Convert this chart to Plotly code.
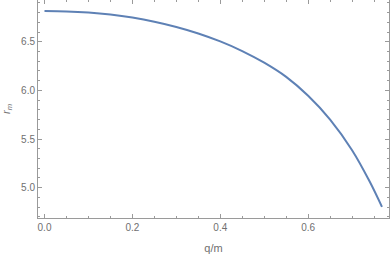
import plotly.graph_objects as go

q_over_m = [0.00, 0.05, 0.10, 0.15, 0.20, 0.25, 0.30, 0.35, 0.40, 0.45, 0.50,
            0.55, 0.60, 0.65, 0.70, 0.74, 0.768]
r_m = [6.817, 6.813, 6.801, 6.780, 6.749, 6.707, 6.653, 6.586, 6.504, 6.405,
       6.285, 6.139, 5.945, 5.700, 5.385, 5.063, 4.802]

x_ticks = [0.0, 0.2, 0.4, 0.6]
y_ticks = [5.0, 5.5, 6.0, 6.5]

axis_color = "#9a9a9a"
label_color = "#707070"
font_family = "Liberation Sans, Arial, sans-serif"

fig = go.Figure()
fig.add_trace(go.Scatter(x=q_over_m, y=r_m, mode="lines",
                         line=dict(color="#5E81B5", width=2, shape="spline", smoothing=1),
                         showlegend=False, hoverinfo="skip"))

common = dict(showline=True, linecolor=axis_color, linewidth=1, mirror="allticks",
              ticks="inside", tickcolor=axis_color, ticklen=4, tickwidth=1,
              showgrid=False, zeroline=False, automargin=False,
              tickfont=dict(family=font_family, size=10, color=label_color),
              tickformat=".1f")

fig.update_xaxes(range=[-0.0148, 0.784], tickvals=x_ticks,
                 minor=dict(dtick=0.05, tick0=0, ticks="inside", ticklen=2, tickcolor=axis_color, showgrid=False),
                 title=dict(text="q/m",
                            font=dict(family=font_family, size=11, color=label_color)),
                 **common)
fig.update_yaxes(range=[4.688, 6.93], tickvals=y_ticks,
                 minor=dict(dtick=0.1, tick0=0, ticks="inside", ticklen=2, tickcolor=axis_color, showgrid=False),
                 title=dict(text="<i>r</i><sub><i>m</i></sub>",
                            font=dict(family=font_family, size=11, color=label_color)),
                 **common)

fig.update_layout(width=390, height=254, margin=dict(l=38, r=1, t=0, b=36, pad=0),
                  paper_bgcolor="white", plot_bgcolor="white", hovermode=False)

fig.write_html("out.html", config={"displayModeBar": False, "staticPlot": True},
               post_script="document.body.style.margin='0';")
